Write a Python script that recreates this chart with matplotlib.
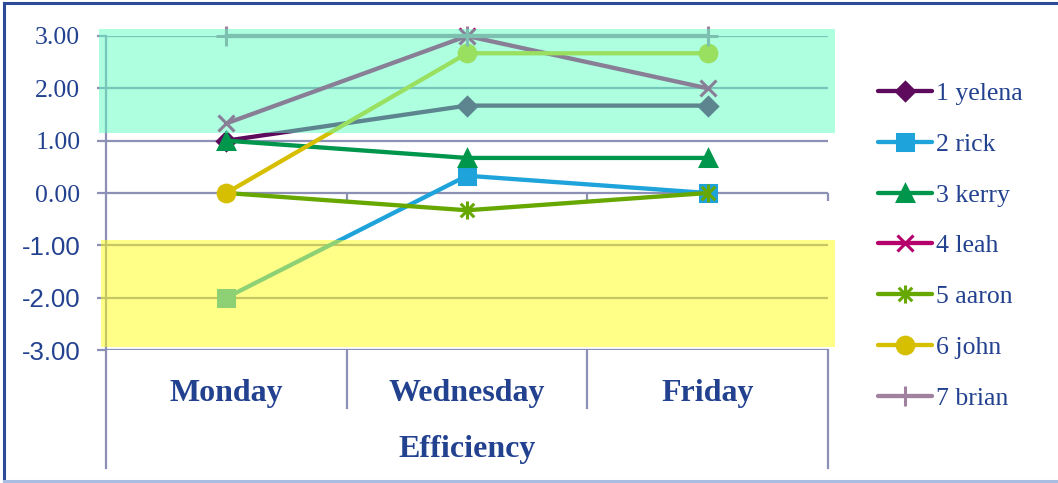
import matplotlib
matplotlib.use("Agg")
import matplotlib.pyplot as plt
from matplotlib.patches import Rectangle
from matplotlib.lines import Line2D
from matplotlib.path import Path
import matplotlib.transforms as mtransforms

# ---- data ----
days = ["Monday", "Wednesday", "Friday"]
group_label = "Efficiency"
names = ["1 yelena", "2 rick", "3 kerry", "4 leah", "5 aaron", "6 john", "7 brian"]
yelena = [1.00, 1.67, 1.67]
rick = [-2.00, 0.33, 0.00]
kerry = [1.00, 0.67, 0.67]
leah = [1.33, 3.00, 2.00]
aaron = [0.00, -0.33, 0.00]
john = [0.00, 2.67, 2.67]
brian = [3.00, 3.00, 3.00]
yticks = [-3, -2, -1, 0, 1, 2, 3]

# ---- styling ----
# star marker: an "x" crossed by a vertical stroke
star = Path([(0, -1), (0, 1), (-0.75, -0.75), (0.75, 0.75), (-0.75, 0.75), (0.75, -0.75)],
            [Path.MOVETO, Path.LINETO, Path.MOVETO, Path.LINETO, Path.MOVETO, Path.LINETO])
colors = ["#5E0B5E", "#1EA3DA", "#00964B", "#B5006C", "#67A800", "#D6BF00", "#A082A0"]
markers = ["D", "s", "^", "x", star, "o", "+"]
msizes = [9, 11, 11, 12, 13, 12, 14]
text_col = "#22418F"
grid_col = "#8C90B4"

fig = plt.figure(figsize=(10.58, 4.83), dpi=100)
W, H = 1058, 483
ax = fig.add_axes([106 / W, 1 - 350 / H, 722 / W, 314 / H])

series = [yelena, rick, kerry, leah, aaron, john, brian]
x = list(range(len(days)))
handles = []
for vals, name, c, m, ms in zip(series, names, colors, markers, msizes):
    ln, = ax.plot(x, vals, color=c, lw=3.1, marker=m, ms=ms, mew=2.2,
                  mfc=c, mec=c, label=name, zorder=3, clip_on=False,
                  solid_capstyle="round")
    handles.append(ln)

ax.set_xlim(-0.5, len(days) - 0.5)
ax.set_ylim(-3, 3)
ax.set_yticks(yticks)
ax.set_yticklabels([f"{v:.2f}" for v in yticks])
ax.set_xticks([])
for s in ["top", "right", "bottom"]:
    ax.spines[s].set_visible(False)
ax.spines["left"].set_color(grid_col)
ax.spines["left"].set_linewidth(1.6)
ax.yaxis.grid(True, color=grid_col, lw=1.6, zorder=1)
ax.set_axisbelow(True)
ax.tick_params(axis="y", length=6.5, width=1.6, color=grid_col, pad=12,
               labelcolor=text_col, labelsize=18.5)
for t, v in zip(ax.get_yticklabels(), yticks):
    t.set_family("Liberation Serif" if v >= 0 else "Liberation Sans")

# category axis ticks hanging below the zero line
tick_len = 0.15
ax.vlines([i + 0.5 for i in x], -tick_len, 0, color=grid_col, lw=1.6, zorder=1,
          clip_on=False)

# highlighted bands drawn over the lines
ax.add_patch(Rectangle((-0.53, 1.15), len(days) + 0.06, 1.99, facecolor="#5DFFC1",
                       alpha=0.5, edgecolor="none", zorder=5, clip_on=False))
ax.add_patch(Rectangle((-0.52, -2.94), len(days) + 0.05, 2.04, facecolor="#FFFF11",
                       alpha=0.5, edgecolor="none", zorder=5, clip_on=False))

# category label table below the plot
tr = mtransforms.blended_transform_factory(ax.transData, fig.transFigure)
for i, d in enumerate(days):
    ax.text(i, 1 - 393 / H, d, transform=tr, ha="center", va="center",
            family="Liberation Serif", fontweight="bold", fontsize=23,
            color=text_col)
ax.text((len(days) - 1) / 2, 1 - 450 / H, group_label, transform=tr,
        ha="center", va="center", family="Liberation Serif",
        fontweight="bold", fontsize=23, color=text_col)
for i in range(len(days) - 1):
    ax.add_line(Line2D([i + 0.5, i + 0.5], [1 - 350 / H, 1 - 408 / H],
                       transform=tr, color=grid_col, lw=1.6, clip_on=False))
for xb in [-0.5, len(days) - 0.5]:
    ax.add_line(Line2D([xb, xb], [1 - 350 / H, 1 - 468 / H],
                       transform=tr, color=grid_col, lw=1.6, clip_on=False))

# legend
leg = fig.legend(handles=handles, loc="upper left",
                 bbox_to_anchor=(868 / W, 1 - 72 / H), frameon=False,
                 prop={"family": "Liberation Serif", "size": 18.5},
                 handlelength=2.1, handletextpad=0.15, labelspacing=1.08,
                 borderaxespad=0)
for t in leg.get_texts():
    t.set_color(text_col)

# outer frame
fig.add_artist(Line2D([4 / W, 4 / W], [1 - 481 / H, 1 - 3 / H], color="#2B4A98",
                      lw=2.2, transform=fig.transFigure))
fig.add_artist(Line2D([4 / W, 1.0], [1 - 3 / H, 1 - 3 / H], color="#2B4A98",
                      lw=2.2, transform=fig.transFigure))
fig.add_artist(Line2D([4 / W, 1.0], [1 - 481 / H, 1 - 481 / H], color="#A9BDE3",
                      lw=2.2, transform=fig.transFigure))

fig.savefig("out.png", dpi=100)
